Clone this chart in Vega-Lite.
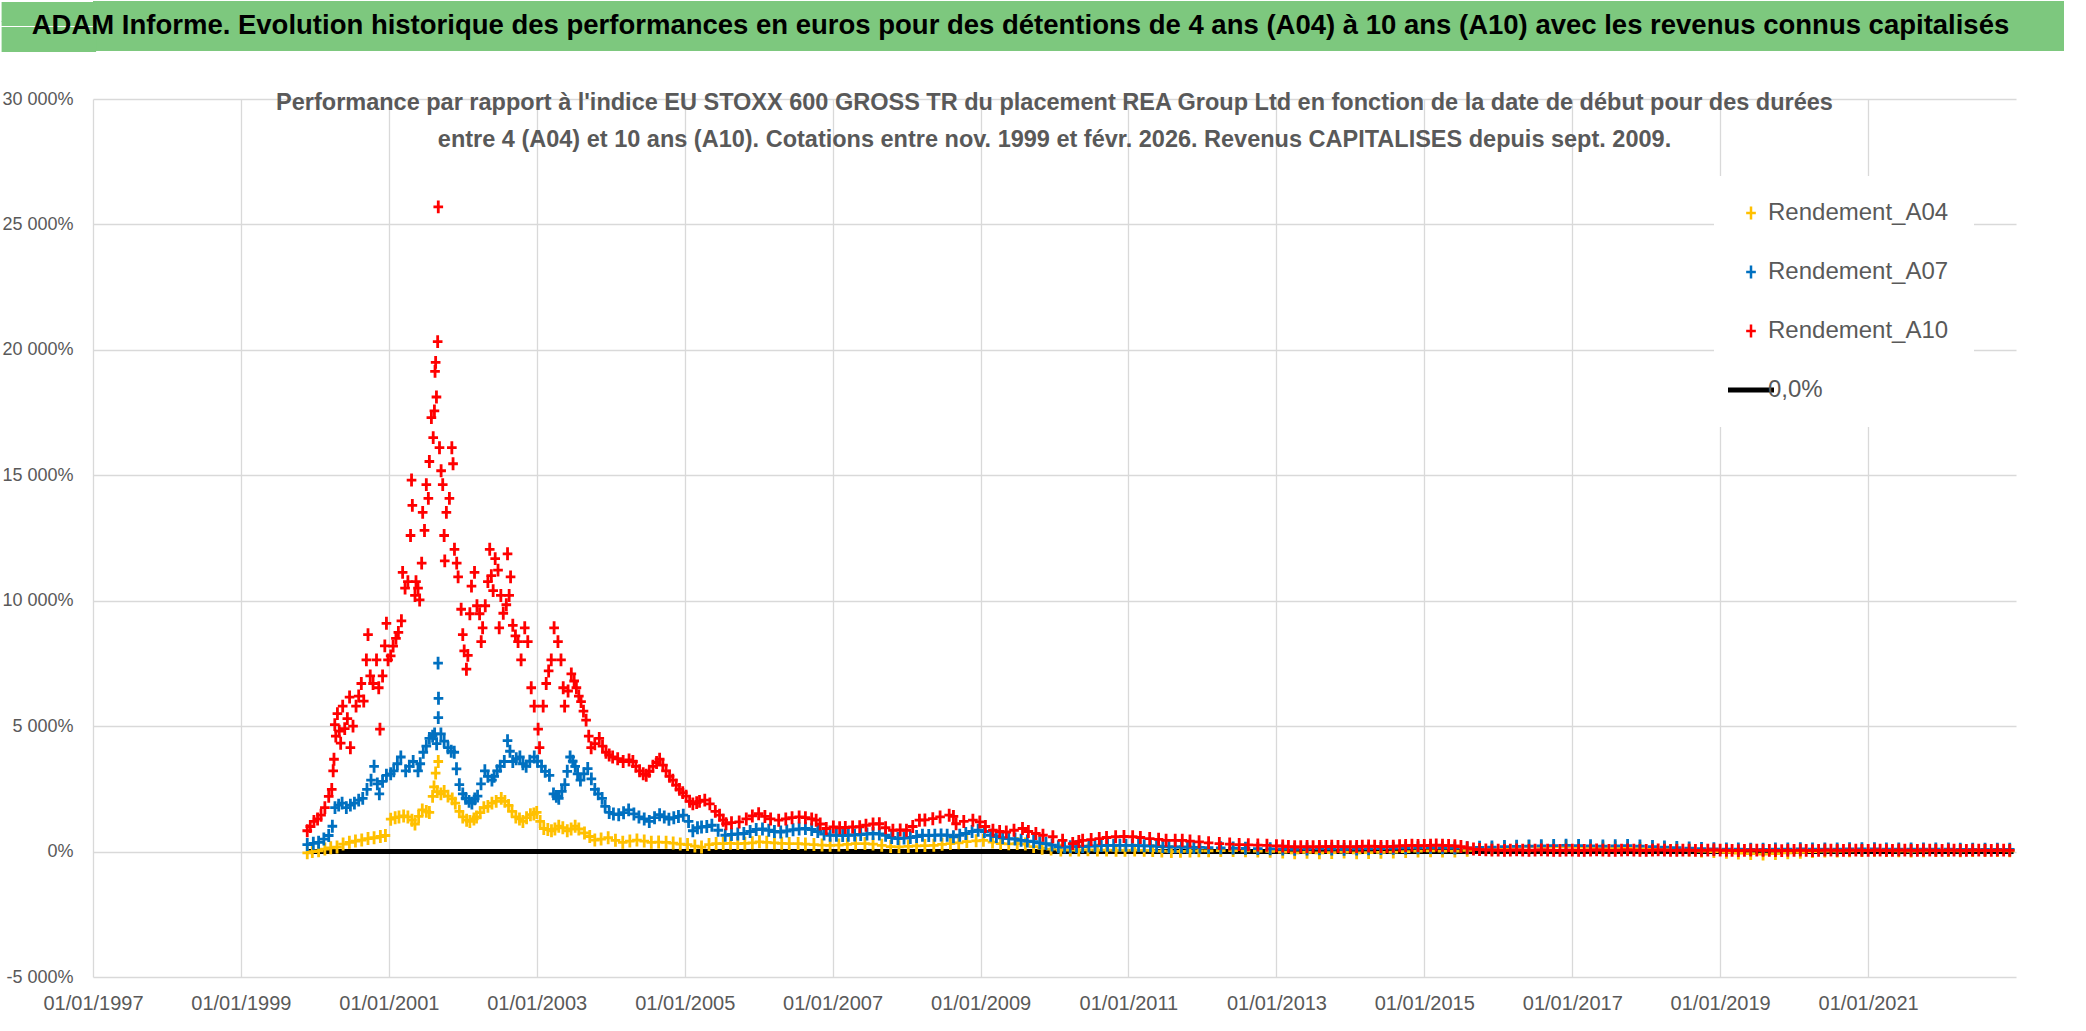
{
 "$schema": "https://vega.github.io/schema/vega-lite/v6.json",
 "padding": 0,
 "spacing": 37,
 "background": "white",
 "config": {
  "locale": {"number": {"decimal": ",", "thousands": " ", "grouping": [3], "currency": ["", " €"], "minus": "-"}},
  "font": "Liberation Sans",
  "view": {"stroke": null}
 },
 "datasets": {
  "pts": [
{"d":"1999-11-25","s":"A04","v":-50},{"d":"1999-12-20","s":"A04","v":0},{"d":"2000-01-20","s":"A04","v":30},{"d":"2000-02-20","s":"A04","v":100},{"d":"2000-03-20","s":"A04","v":150},{"d":"2000-04-20","s":"A04","v":180},{"d":"2000-05-20","s":"A04","v":300},{"d":"2000-06-20","s":"A04","v":370},{"d":"2000-07-20","s":"A04","v":420},{"d":"2000-08-20","s":"A04","v":460},{"d":"2000-09-20","s":"A04","v":520},{"d":"2000-10-20","s":"A04","v":550},{"d":"2000-11-20","s":"A04","v":600},{"d":"2000-12-15","s":"A04","v":640},{"d":"2001-01-10","s":"A04","v":1290},{"d":"2001-02-01","s":"A04","v":1350},{"d":"2001-02-20","s":"A04","v":1380},{"d":"2001-03-15","s":"A04","v":1420},{"d":"2001-04-05","s":"A04","v":1380},{"d":"2001-04-25","s":"A04","v":1250},{"d":"2001-05-10","s":"A04","v":1100},{"d":"2001-05-28","s":"A04","v":1400},{"d":"2001-06-15","s":"A04","v":1660},{"d":"2001-07-05","s":"A04","v":1600},{"d":"2001-07-20","s":"A04","v":1560},{"d":"2001-08-05","s":"A04","v":2200},{"d":"2001-08-12","s":"A04","v":2580},{"d":"2001-08-20","s":"A04","v":3130},{"d":"2001-08-28","s":"A04","v":2390},{"d":"2001-09-02","s":"A04","v":3590},{"d":"2001-09-15","s":"A04","v":2300},{"d":"2001-10-01","s":"A04","v":2400},{"d":"2001-10-20","s":"A04","v":2210},{"d":"2001-11-10","s":"A04","v":2100},{"d":"2001-11-25","s":"A04","v":1930},{"d":"2001-12-15","s":"A04","v":1600},{"d":"2002-01-01","s":"A04","v":1380},{"d":"2002-01-20","s":"A04","v":1250},{"d":"2002-02-05","s":"A04","v":1200},{"d":"2002-02-25","s":"A04","v":1300},{"d":"2002-03-10","s":"A04","v":1380},{"d":"2002-03-28","s":"A04","v":1550},{"d":"2002-04-15","s":"A04","v":1750},{"d":"2002-05-05","s":"A04","v":1800},{"d":"2002-05-25","s":"A04","v":1930},{"d":"2002-06-15","s":"A04","v":2000},{"d":"2002-07-10","s":"A04","v":2120},{"d":"2002-07-28","s":"A04","v":2000},{"d":"2002-08-15","s":"A04","v":1840},{"d":"2002-09-01","s":"A04","v":1600},{"d":"2002-09-20","s":"A04","v":1380},{"d":"2002-10-08","s":"A04","v":1300},{"d":"2002-10-25","s":"A04","v":1200},{"d":"2002-11-12","s":"A04","v":1350},{"d":"2002-12-01","s":"A04","v":1470},{"d":"2002-12-18","s":"A04","v":1500},{"d":"2003-01-01","s":"A04","v":1560},{"d":"2003-01-18","s":"A04","v":1200},{"d":"2003-02-05","s":"A04","v":920},{"d":"2003-02-25","s":"A04","v":880},{"d":"2003-03-15","s":"A04","v":830},{"d":"2003-04-01","s":"A04","v":900},{"d":"2003-04-20","s":"A04","v":1010},{"d":"2003-05-10","s":"A04","v":950},{"d":"2003-06-01","s":"A04","v":830},{"d":"2003-06-20","s":"A04","v":900},{"d":"2003-07-10","s":"A04","v":1010},{"d":"2003-07-28","s":"A04","v":900},{"d":"2003-08-25","s":"A04","v":740},{"d":"2003-09-20","s":"A04","v":600},{"d":"2003-10-15","s":"A04","v":460},{"d":"2003-11-15","s":"A04","v":500},{"d":"2003-12-20","s":"A04","v":550},{"d":"2004-01-25","s":"A04","v":450},{"d":"2004-03-01","s":"A04","v":370},{"d":"2004-04-05","s":"A04","v":420},{"d":"2004-05-10","s":"A04","v":460},{"d":"2004-06-15","s":"A04","v":420},{"d":"2004-07-20","s":"A04","v":370},{"d":"2004-08-25","s":"A04","v":380},{"d":"2004-10-01","s":"A04","v":370},{"d":"2004-11-05","s":"A04","v":340},{"d":"2004-12-10","s":"A04","v":300},{"d":"2005-01-15","s":"A04","v":280},{"d":"2005-02-20","s":"A04","v":220},{"d":"2005-03-25","s":"A04","v":180},{"d":"2005-05-01","s":"A04","v":280},{"d":"2005-06-05","s":"A04","v":320},{"d":"2005-07-10","s":"A04","v":320},{"d":"2005-08-15","s":"A04","v":330},{"d":"2005-09-20","s":"A04","v":320},{"d":"2005-10-25","s":"A04","v":330},{"d":"2005-12-01","s":"A04","v":350},{"d":"2006-01-05","s":"A04","v":390},{"d":"2006-02-10","s":"A04","v":370},{"d":"2006-03-20","s":"A04","v":350},{"d":"2006-04-25","s":"A04","v":330},{"d":"2006-06-01","s":"A04","v":320},{"d":"2006-07-15","s":"A04","v":320},{"d":"2006-08-20","s":"A04","v":300},{"d":"2006-10-01","s":"A04","v":280},{"d":"2006-11-10","s":"A04","v":260},{"d":"2006-12-20","s":"A04","v":250},{"d":"2007-02-01","s":"A04","v":260},{"d":"2007-03-15","s":"A04","v":290},{"d":"2007-04-25","s":"A04","v":320},{"d":"2007-06-10","s":"A04","v":320},{"d":"2007-07-20","s":"A04","v":300},{"d":"2007-09-01","s":"A04","v":250},{"d":"2007-10-15","s":"A04","v":200},{"d":"2007-11-25","s":"A04","v":190},{"d":"2008-01-10","s":"A04","v":210},{"d":"2008-02-20","s":"A04","v":230},{"d":"2008-04-01","s":"A04","v":240},{"d":"2008-05-15","s":"A04","v":250},{"d":"2008-06-25","s":"A04","v":290},{"d":"2008-08-05","s":"A04","v":320},{"d":"2008-09-15","s":"A04","v":350},{"d":"2008-10-25","s":"A04","v":400},{"d":"2008-12-10","s":"A04","v":430},{"d":"2009-01-15","s":"A04","v":450},{"d":"2009-03-01","s":"A04","v":380},{"d":"2009-04-10","s":"A04","v":320},{"d":"2009-05-20","s":"A04","v":310},{"d":"2009-07-01","s":"A04","v":320},{"d":"2009-08-10","s":"A04","v":300},{"d":"2009-09-20","s":"A04","v":200},{"d":"2009-11-01","s":"A04","v":130},{"d":"2009-12-15","s":"A04","v":100},{"d":"2010-02-01","s":"A04","v":60},{"d":"2010-03-20","s":"A04","v":60},{"d":"2010-05-01","s":"A04","v":60},{"d":"2010-06-15","s":"A04","v":70},{"d":"2010-08-01","s":"A04","v":60},{"d":"2010-09-15","s":"A04","v":60},{"d":"2010-11-01","s":"A04","v":50},{"d":"2010-12-15","s":"A04","v":50},{"d":"2011-02-01","s":"A04","v":60},{"d":"2011-03-20","s":"A04","v":50},{"d":"2011-05-01","s":"A04","v":40},{"d":"2011-06-15","s":"A04","v":20},{"d":"2011-08-01","s":"A04","v":0},{"d":"2011-09-15","s":"A04","v":10},{"d":"2011-11-01","s":"A04","v":20},{"d":"2011-12-15","s":"A04","v":30},{"d":"2012-02-01","s":"A04","v":30},{"d":"2012-04-01","s":"A04","v":40},{"d":"2012-06-01","s":"A04","v":40},{"d":"2012-08-01","s":"A04","v":30},{"d":"2012-10-01","s":"A04","v":20},{"d":"2012-12-01","s":"A04","v":10},{"d":"2013-02-01","s":"A04","v":-20},{"d":"2013-04-01","s":"A04","v":-50},{"d":"2013-06-01","s":"A04","v":-30},{"d":"2013-08-01","s":"A04","v":-50},{"d":"2013-10-01","s":"A04","v":-40},{"d":"2013-12-01","s":"A04","v":-20},{"d":"2014-02-01","s":"A04","v":-50},{"d":"2014-04-01","s":"A04","v":-40},{"d":"2014-06-01","s":"A04","v":-30},{"d":"2014-08-01","s":"A04","v":-20},{"d":"2014-10-01","s":"A04","v":0},{"d":"2014-12-01","s":"A04","v":20},{"d":"2015-02-01","s":"A04","v":30},{"d":"2015-04-01","s":"A04","v":20},{"d":"2015-06-01","s":"A04","v":20},{"d":"2015-08-01","s":"A04","v":50},{"d":"2015-10-01","s":"A04","v":100},{"d":"2015-12-01","s":"A04","v":120},{"d":"2016-02-01","s":"A04","v":150},{"d":"2016-04-01","s":"A04","v":180},{"d":"2016-06-01","s":"A04","v":200},{"d":"2016-08-01","s":"A04","v":180},{"d":"2016-10-01","s":"A04","v":190},{"d":"2016-12-01","s":"A04","v":200},{"d":"2017-02-01","s":"A04","v":180},{"d":"2017-04-01","s":"A04","v":170},{"d":"2017-06-01","s":"A04","v":150},{"d":"2017-08-01","s":"A04","v":160},{"d":"2017-10-01","s":"A04","v":140},{"d":"2017-12-01","s":"A04","v":120},{"d":"2018-02-01","s":"A04","v":100},{"d":"2018-04-01","s":"A04","v":120},{"d":"2018-06-01","s":"A04","v":100},{"d":"2018-08-01","s":"A04","v":60},{"d":"2018-10-01","s":"A04","v":20},{"d":"2018-12-01","s":"A04","v":0},{"d":"2019-02-01","s":"A04","v":-30},{"d":"2019-04-01","s":"A04","v":-60},{"d":"2019-06-01","s":"A04","v":-80},{"d":"2019-08-01","s":"A04","v":-100},{"d":"2019-10-01","s":"A04","v":-80},{"d":"2019-12-01","s":"A04","v":-50},{"d":"2020-02-01","s":"A04","v":-30},{"d":"2020-04-01","s":"A04","v":0},{"d":"2020-06-01","s":"A04","v":20},{"d":"2020-08-01","s":"A04","v":20},{"d":"2020-10-01","s":"A04","v":30},{"d":"2020-12-01","s":"A04","v":40},{"d":"2021-02-01","s":"A04","v":50},{"d":"2021-04-01","s":"A04","v":40},{"d":"2021-06-01","s":"A04","v":30},{"d":"2021-08-01","s":"A04","v":20},{"d":"2021-10-01","s":"A04","v":30},{"d":"2021-12-01","s":"A04","v":40},{"d":"2022-02-01","s":"A04","v":40},{"d":"2022-04-01","s":"A04","v":30},{"d":"2022-06-01","s":"A04","v":40},{"d":"2022-08-01","s":"A04","v":50},{"d":"2022-10-01","s":"A04","v":40},{"d":"2022-12-01","s":"A04","v":30},
{"d":"1999-11-25","s":"A07","v":280},{"d":"1999-12-25","s":"A07","v":330},{"d":"2000-01-20","s":"A07","v":370},{"d":"2000-02-15","s":"A07","v":500},{"d":"2000-03-10","s":"A07","v":640},{"d":"2000-03-28","s":"A07","v":1010},{"d":"2000-04-10","s":"A07","v":1750},{"d":"2000-04-28","s":"A07","v":1850},{"d":"2000-05-15","s":"A07","v":1930},{"d":"2000-06-05","s":"A07","v":1750},{"d":"2000-06-25","s":"A07","v":1850},{"d":"2000-07-15","s":"A07","v":1930},{"d":"2000-08-05","s":"A07","v":2050},{"d":"2000-08-25","s":"A07","v":2120},{"d":"2000-09-15","s":"A07","v":2480},{"d":"2000-10-05","s":"A07","v":2850},{"d":"2000-10-20","s":"A07","v":3400},{"d":"2000-11-05","s":"A07","v":2700},{"d":"2000-11-15","s":"A07","v":2300},{"d":"2000-12-01","s":"A07","v":2800},{"d":"2000-12-20","s":"A07","v":3040},{"d":"2001-01-10","s":"A07","v":3100},{"d":"2001-01-25","s":"A07","v":3220},{"d":"2001-02-12","s":"A07","v":3500},{"d":"2001-03-01","s":"A07","v":3770},{"d":"2001-03-25","s":"A07","v":3220},{"d":"2001-04-12","s":"A07","v":3400},{"d":"2001-05-01","s":"A07","v":3590},{"d":"2001-05-25","s":"A07","v":3220},{"d":"2001-06-05","s":"A07","v":3500},{"d":"2001-06-20","s":"A07","v":3960},{"d":"2001-07-05","s":"A07","v":4200},{"d":"2001-07-20","s":"A07","v":4510},{"d":"2001-08-05","s":"A07","v":4600},{"d":"2001-08-15","s":"A07","v":4690},{"d":"2001-08-25","s":"A07","v":4300},{"d":"2001-09-01","s":"A07","v":7510},{"d":"2001-09-02","s":"A07","v":5340},{"d":"2001-09-03","s":"A07","v":6110},{"d":"2001-09-15","s":"A07","v":4690},{"d":"2001-10-01","s":"A07","v":4400},{"d":"2001-10-20","s":"A07","v":4140},{"d":"2001-11-05","s":"A07","v":4000},{"d":"2001-11-20","s":"A07","v":3960},{"d":"2001-12-01","s":"A07","v":3300},{"d":"2001-12-15","s":"A07","v":2670},{"d":"2002-01-01","s":"A07","v":2300},{"d":"2002-01-15","s":"A07","v":2120},{"d":"2002-02-01","s":"A07","v":2000},{"d":"2002-02-15","s":"A07","v":1930},{"d":"2002-03-01","s":"A07","v":2100},{"d":"2002-03-15","s":"A07","v":2210},{"d":"2002-04-01","s":"A07","v":2700},{"d":"2002-04-20","s":"A07","v":3220},{"d":"2002-05-05","s":"A07","v":3000},{"d":"2002-05-25","s":"A07","v":2850},{"d":"2002-06-05","s":"A07","v":3000},{"d":"2002-06-20","s":"A07","v":3220},{"d":"2002-07-05","s":"A07","v":3400},{"d":"2002-07-25","s":"A07","v":3590},{"d":"2002-08-10","s":"A07","v":4420},{"d":"2002-08-22","s":"A07","v":4000},{"d":"2002-09-05","s":"A07","v":3590},{"d":"2002-09-22","s":"A07","v":3700},{"d":"2002-10-10","s":"A07","v":3770},{"d":"2002-10-25","s":"A07","v":3500},{"d":"2002-11-10","s":"A07","v":3400},{"d":"2002-11-28","s":"A07","v":3600},{"d":"2002-12-20","s":"A07","v":3770},{"d":"2003-01-05","s":"A07","v":3600},{"d":"2003-01-25","s":"A07","v":3400},{"d":"2003-02-12","s":"A07","v":3200},{"d":"2003-03-05","s":"A07","v":3040},{"d":"2003-03-25","s":"A07","v":2300},{"d":"2003-04-08","s":"A07","v":2200},{"d":"2003-04-20","s":"A07","v":2120},{"d":"2003-05-05","s":"A07","v":2400},{"d":"2003-05-20","s":"A07","v":2670},{"d":"2003-06-01","s":"A07","v":3200},{"d":"2003-06-15","s":"A07","v":3770},{"d":"2003-06-28","s":"A07","v":3600},{"d":"2003-07-10","s":"A07","v":3400},{"d":"2003-07-22","s":"A07","v":3100},{"d":"2003-08-05","s":"A07","v":2850},{"d":"2003-08-22","s":"A07","v":3100},{"d":"2003-09-10","s":"A07","v":3310},{"d":"2003-09-28","s":"A07","v":2900},{"d":"2003-10-15","s":"A07","v":2480},{"d":"2003-11-01","s":"A07","v":2300},{"d":"2003-11-20","s":"A07","v":2120},{"d":"2003-12-05","s":"A07","v":1800},{"d":"2003-12-25","s":"A07","v":1560},{"d":"2004-01-15","s":"A07","v":1500},{"d":"2004-02-10","s":"A07","v":1470},{"d":"2004-03-05","s":"A07","v":1550},{"d":"2004-03-30","s":"A07","v":1660},{"d":"2004-04-25","s":"A07","v":1500},{"d":"2004-05-20","s":"A07","v":1380},{"d":"2004-06-15","s":"A07","v":1300},{"d":"2004-07-10","s":"A07","v":1200},{"d":"2004-08-05","s":"A07","v":1350},{"d":"2004-08-30","s":"A07","v":1470},{"d":"2004-09-22","s":"A07","v":1380},{"d":"2004-10-15","s":"A07","v":1290},{"d":"2004-11-08","s":"A07","v":1350},{"d":"2004-12-01","s":"A07","v":1400},{"d":"2004-12-25","s":"A07","v":1450},{"d":"2005-01-20","s":"A07","v":1200},{"d":"2005-02-10","s":"A07","v":830},{"d":"2005-03-05","s":"A07","v":950},{"d":"2005-03-25","s":"A07","v":980},{"d":"2005-04-20","s":"A07","v":1000},{"d":"2005-05-15","s":"A07","v":1050},{"d":"2005-06-15","s":"A07","v":850},{"d":"2005-07-20","s":"A07","v":650},{"d":"2005-08-20","s":"A07","v":680},{"d":"2005-09-20","s":"A07","v":700},{"d":"2005-10-20","s":"A07","v":720},{"d":"2005-11-20","s":"A07","v":800},{"d":"2005-12-20","s":"A07","v":880},{"d":"2006-01-20","s":"A07","v":900},{"d":"2006-02-20","s":"A07","v":850},{"d":"2006-03-20","s":"A07","v":800},{"d":"2006-04-20","s":"A07","v":780},{"d":"2006-05-20","s":"A07","v":820},{"d":"2006-06-20","s":"A07","v":870},{"d":"2006-07-20","s":"A07","v":900},{"d":"2006-08-20","s":"A07","v":920},{"d":"2006-09-20","s":"A07","v":880},{"d":"2006-10-20","s":"A07","v":800},{"d":"2006-11-20","s":"A07","v":700},{"d":"2006-12-20","s":"A07","v":650},{"d":"2007-01-20","s":"A07","v":650},{"d":"2007-02-20","s":"A07","v":640},{"d":"2007-03-20","s":"A07","v":650},{"d":"2007-04-20","s":"A07","v":660},{"d":"2007-05-20","s":"A07","v":680},{"d":"2007-06-20","s":"A07","v":700},{"d":"2007-07-20","s":"A07","v":720},{"d":"2007-08-20","s":"A07","v":700},{"d":"2007-09-20","s":"A07","v":650},{"d":"2007-10-20","s":"A07","v":560},{"d":"2007-11-20","s":"A07","v":520},{"d":"2007-12-20","s":"A07","v":540},{"d":"2008-01-20","s":"A07","v":560},{"d":"2008-02-20","s":"A07","v":600},{"d":"2008-03-20","s":"A07","v":650},{"d":"2008-04-20","s":"A07","v":640},{"d":"2008-05-20","s":"A07","v":650},{"d":"2008-06-20","s":"A07","v":660},{"d":"2008-07-20","s":"A07","v":650},{"d":"2008-08-20","s":"A07","v":590},{"d":"2008-09-20","s":"A07","v":650},{"d":"2008-10-20","s":"A07","v":720},{"d":"2008-11-20","s":"A07","v":800},{"d":"2008-12-20","s":"A07","v":850},{"d":"2009-01-20","s":"A07","v":800},{"d":"2009-02-20","s":"A07","v":650},{"d":"2009-03-20","s":"A07","v":600},{"d":"2009-04-20","s":"A07","v":550},{"d":"2009-05-20","s":"A07","v":520},{"d":"2009-06-20","s":"A07","v":500},{"d":"2009-07-20","s":"A07","v":450},{"d":"2009-08-20","s":"A07","v":420},{"d":"2009-09-20","s":"A07","v":400},{"d":"2009-10-20","s":"A07","v":350},{"d":"2009-11-20","s":"A07","v":320},{"d":"2009-12-20","s":"A07","v":260},{"d":"2010-01-20","s":"A07","v":190},{"d":"2010-02-20","s":"A07","v":180},{"d":"2010-03-20","s":"A07","v":190},{"d":"2010-04-20","s":"A07","v":200},{"d":"2010-05-20","s":"A07","v":200},{"d":"2010-06-20","s":"A07","v":220},{"d":"2010-07-20","s":"A07","v":230},{"d":"2010-08-20","s":"A07","v":240},{"d":"2010-09-20","s":"A07","v":250},{"d":"2010-10-20","s":"A07","v":250},{"d":"2010-11-20","s":"A07","v":250},{"d":"2010-12-20","s":"A07","v":250},{"d":"2011-01-20","s":"A07","v":250},{"d":"2011-02-20","s":"A07","v":240},{"d":"2011-03-20","s":"A07","v":230},{"d":"2011-04-20","s":"A07","v":225},{"d":"2011-05-20","s":"A07","v":220},{"d":"2011-06-20","s":"A07","v":200},{"d":"2011-07-20","s":"A07","v":190},{"d":"2011-08-20","s":"A07","v":185},{"d":"2011-09-20","s":"A07","v":180},{"d":"2011-10-20","s":"A07","v":175},{"d":"2011-11-20","s":"A07","v":170},{"d":"2011-12-20","s":"A07","v":165},{"d":"2012-02-01","s":"A07","v":160},{"d":"2012-04-01","s":"A07","v":150},{"d":"2012-06-01","s":"A07","v":140},{"d":"2012-08-01","s":"A07","v":130},{"d":"2012-10-01","s":"A07","v":120},{"d":"2012-12-01","s":"A07","v":110},{"d":"2013-02-01","s":"A07","v":100},{"d":"2013-04-01","s":"A07","v":90},{"d":"2013-06-01","s":"A07","v":100},{"d":"2013-08-01","s":"A07","v":110},{"d":"2013-10-01","s":"A07","v":100},{"d":"2013-12-01","s":"A07","v":90},{"d":"2014-02-01","s":"A07","v":100},{"d":"2014-04-01","s":"A07","v":110},{"d":"2014-06-01","s":"A07","v":120},{"d":"2014-08-01","s":"A07","v":130},{"d":"2014-10-01","s":"A07","v":140},{"d":"2014-12-01","s":"A07","v":150},{"d":"2015-02-01","s":"A07","v":160},{"d":"2015-04-01","s":"A07","v":150},{"d":"2015-06-01","s":"A07","v":140},{"d":"2015-08-01","s":"A07","v":150},{"d":"2015-10-01","s":"A07","v":170},{"d":"2015-12-01","s":"A07","v":180},{"d":"2016-02-01","s":"A07","v":200},{"d":"2016-04-01","s":"A07","v":210},{"d":"2016-06-01","s":"A07","v":220},{"d":"2016-08-01","s":"A07","v":230},{"d":"2016-10-01","s":"A07","v":240},{"d":"2016-12-01","s":"A07","v":250},{"d":"2017-02-01","s":"A07","v":240},{"d":"2017-04-01","s":"A07","v":230},{"d":"2017-06-01","s":"A07","v":220},{"d":"2017-08-01","s":"A07","v":230},{"d":"2017-10-01","s":"A07","v":240},{"d":"2017-12-01","s":"A07","v":220},{"d":"2018-02-01","s":"A07","v":200},{"d":"2018-04-01","s":"A07","v":180},{"d":"2018-06-01","s":"A07","v":160},{"d":"2018-08-01","s":"A07","v":140},{"d":"2018-10-01","s":"A07","v":120},{"d":"2018-12-01","s":"A07","v":110},{"d":"2019-02-01","s":"A07","v":100},{"d":"2019-04-01","s":"A07","v":100},{"d":"2019-06-01","s":"A07","v":90},{"d":"2019-08-01","s":"A07","v":90},{"d":"2019-10-01","s":"A07","v":100},{"d":"2019-12-01","s":"A07","v":100},{"d":"2020-02-01","s":"A07","v":110},{"d":"2020-04-01","s":"A07","v":100},{"d":"2020-06-01","s":"A07","v":100},{"d":"2020-08-01","s":"A07","v":100},{"d":"2020-10-01","s":"A07","v":110},{"d":"2020-12-01","s":"A07","v":110},{"d":"2021-02-01","s":"A07","v":110},{"d":"2021-04-01","s":"A07","v":100},{"d":"2021-06-01","s":"A07","v":100},{"d":"2021-08-01","s":"A07","v":100},{"d":"2021-10-01","s":"A07","v":100},{"d":"2021-12-01","s":"A07","v":100},{"d":"2022-02-01","s":"A07","v":100},{"d":"2022-04-01","s":"A07","v":90},{"d":"2022-06-01","s":"A07","v":90},{"d":"2022-08-01","s":"A07","v":90},{"d":"2022-10-01","s":"A07","v":90},{"d":"2022-12-01","s":"A07","v":90},
{"d":"1999-11-25","s":"A10","v":830},{"d":"1999-12-10","s":"A10","v":1000},{"d":"1999-12-28","s":"A10","v":1200},{"d":"2000-01-15","s":"A10","v":1300},{"d":"2000-02-01","s":"A10","v":1450},{"d":"2000-02-20","s":"A10","v":1750},{"d":"2000-03-10","s":"A10","v":2200},{"d":"2000-03-25","s":"A10","v":2480},{"d":"2000-04-01","s":"A10","v":3220},{"d":"2000-04-05","s":"A10","v":3680},{"d":"2000-04-09","s":"A10","v":5060},{"d":"2000-04-14","s":"A10","v":4600},{"d":"2000-04-22","s":"A10","v":5500},{"d":"2000-05-01","s":"A10","v":4800},{"d":"2000-05-08","s":"A10","v":4320},{"d":"2000-05-18","s":"A10","v":5800},{"d":"2000-05-28","s":"A10","v":4900},{"d":"2000-06-10","s":"A10","v":5300},{"d":"2000-06-21","s":"A10","v":6160},{"d":"2000-06-25","s":"A10","v":4140},{"d":"2000-07-08","s":"A10","v":5000},{"d":"2000-07-23","s":"A10","v":5800},{"d":"2000-08-05","s":"A10","v":6200},{"d":"2000-08-18","s":"A10","v":6700},{"d":"2000-08-30","s":"A10","v":6000},{"d":"2000-09-12","s":"A10","v":7640},{"d":"2000-09-20","s":"A10","v":8650},{"d":"2000-10-01","s":"A10","v":7000},{"d":"2000-10-15","s":"A10","v":6700},{"d":"2000-11-01","s":"A10","v":7640},{"d":"2000-11-12","s":"A10","v":6530},{"d":"2000-11-18","s":"A10","v":4880},{"d":"2000-12-01","s":"A10","v":7000},{"d":"2000-12-12","s":"A10","v":8200},{"d":"2000-12-20","s":"A10","v":9100},{"d":"2000-12-28","s":"A10","v":7640},{"d":"2001-01-10","s":"A10","v":7800},{"d":"2001-01-22","s":"A10","v":8190},{"d":"2001-02-05","s":"A10","v":8500},{"d":"2001-02-17","s":"A10","v":8740},{"d":"2001-03-04","s":"A10","v":9200},{"d":"2001-03-10","s":"A10","v":11130},{"d":"2001-03-22","s":"A10","v":10500},{"d":"2001-04-05","s":"A10","v":10760},{"d":"2001-04-18","s":"A10","v":12600},{"d":"2001-04-23","s":"A10","v":14810},{"d":"2001-04-27","s":"A10","v":13800},{"d":"2001-05-10","s":"A10","v":10210},{"d":"2001-05-15","s":"A10","v":10760},{"d":"2001-05-25","s":"A10","v":10500},{"d":"2001-06-02","s":"A10","v":10030},{"d":"2001-06-12","s":"A10","v":11500},{"d":"2001-06-17","s":"A10","v":13520},{"d":"2001-06-26","s":"A10","v":12800},{"d":"2001-07-05","s":"A10","v":14630},{"d":"2001-07-15","s":"A10","v":14080},{"d":"2001-07-20","s":"A10","v":15550},{"d":"2001-07-30","s":"A10","v":17300},{"d":"2001-08-08","s":"A10","v":16500},{"d":"2001-08-14","s":"A10","v":17570},{"d":"2001-08-17","s":"A10","v":19140},{"d":"2001-08-20","s":"A10","v":19500},{"d":"2001-08-24","s":"A10","v":18120},{"d":"2001-08-30","s":"A10","v":20330},{"d":"2001-09-02","s":"A10","v":25700},{"d":"2001-09-08","s":"A10","v":16100},{"d":"2001-09-16","s":"A10","v":15180},{"d":"2001-09-24","s":"A10","v":14630},{"d":"2001-10-01","s":"A10","v":12600},{"d":"2001-10-04","s":"A10","v":11590},{"d":"2001-10-12","s":"A10","v":13520},{"d":"2001-10-27","s":"A10","v":14080},{"d":"2001-11-08","s":"A10","v":16100},{"d":"2001-11-14","s":"A10","v":15460},{"d":"2001-11-21","s":"A10","v":12050},{"d":"2001-12-02","s":"A10","v":11500},{"d":"2001-12-09","s":"A10","v":10950},{"d":"2001-12-24","s":"A10","v":9660},{"d":"2002-01-01","s":"A10","v":8650},{"d":"2002-01-08","s":"A10","v":8000},{"d":"2002-01-19","s":"A10","v":7270},{"d":"2002-01-26","s":"A10","v":7820},{"d":"2002-02-05","s":"A10","v":9480},{"d":"2002-02-13","s":"A10","v":10580},{"d":"2002-02-28","s":"A10","v":11130},{"d":"2002-03-12","s":"A10","v":9800},{"d":"2002-03-25","s":"A10","v":9480},{"d":"2002-04-02","s":"A10","v":8370},{"d":"2002-04-09","s":"A10","v":8920},{"d":"2002-04-22","s":"A10","v":9800},{"d":"2002-05-05","s":"A10","v":10760},{"d":"2002-05-14","s":"A10","v":12050},{"d":"2002-05-22","s":"A10","v":11000},{"d":"2002-05-31","s":"A10","v":10400},{"d":"2002-06-10","s":"A10","v":11680},{"d":"2002-06-24","s":"A10","v":11220},{"d":"2002-06-30","s":"A10","v":8920},{"d":"2002-07-08","s":"A10","v":10210},{"d":"2002-07-20","s":"A10","v":9500},{"d":"2002-08-04","s":"A10","v":9840},{"d":"2002-08-10","s":"A10","v":11870},{"d":"2002-08-18","s":"A10","v":10210},{"d":"2002-08-25","s":"A10","v":10950},{"d":"2002-09-05","s":"A10","v":9020},{"d":"2002-09-18","s":"A10","v":8600},{"d":"2002-10-01","s":"A10","v":8370},{"d":"2002-10-16","s":"A10","v":7640},{"d":"2002-11-03","s":"A10","v":8920},{"d":"2002-11-18","s":"A10","v":8370},{"d":"2002-12-05","s":"A10","v":6530},{"d":"2002-12-20","s":"A10","v":5800},{"d":"2003-01-08","s":"A10","v":4880},{"d":"2003-01-15","s":"A10","v":4140},{"d":"2003-02-02","s":"A10","v":5800},{"d":"2003-02-17","s":"A10","v":6700},{"d":"2003-03-01","s":"A10","v":7200},{"d":"2003-03-14","s":"A10","v":7640},{"d":"2003-03-28","s":"A10","v":8920},{"d":"2003-04-16","s":"A10","v":8370},{"d":"2003-05-01","s":"A10","v":7640},{"d":"2003-05-12","s":"A10","v":6530},{"d":"2003-05-19","s":"A10","v":5800},{"d":"2003-06-05","s":"A10","v":6400},{"d":"2003-06-21","s":"A10","v":7080},{"d":"2003-07-05","s":"A10","v":6800},{"d":"2003-07-16","s":"A10","v":6530},{"d":"2003-07-28","s":"A10","v":6200},{"d":"2003-08-08","s":"A10","v":5980},{"d":"2003-08-20","s":"A10","v":5600},{"d":"2003-09-02","s":"A10","v":5240},{"d":"2003-09-15","s":"A10","v":4600},{"d":"2003-09-27","s":"A10","v":4140},{"d":"2003-10-15","s":"A10","v":4300},{"d":"2003-11-06","s":"A10","v":4510},{"d":"2003-11-22","s":"A10","v":4200},{"d":"2003-12-09","s":"A10","v":3960},{"d":"2003-12-25","s":"A10","v":3850},{"d":"2004-01-11","s":"A10","v":3770},{"d":"2004-02-05","s":"A10","v":3700},{"d":"2004-03-03","s":"A10","v":3590},{"d":"2004-04-01","s":"A10","v":3650},{"d":"2004-04-20","s":"A10","v":3590},{"d":"2004-05-05","s":"A10","v":3400},{"d":"2004-05-23","s":"A10","v":3220},{"d":"2004-06-10","s":"A10","v":3100},{"d":"2004-06-25","s":"A10","v":3040},{"d":"2004-07-10","s":"A10","v":3200},{"d":"2004-07-28","s":"A10","v":3400},{"d":"2004-08-15","s":"A10","v":3550},{"d":"2004-08-30","s":"A10","v":3680},{"d":"2004-09-15","s":"A10","v":3450},{"d":"2004-10-01","s":"A10","v":3220},{"d":"2004-10-18","s":"A10","v":3000},{"d":"2004-11-03","s":"A10","v":2850},{"d":"2004-11-20","s":"A10","v":2650},{"d":"2004-12-06","s":"A10","v":2480},{"d":"2004-12-22","s":"A10","v":2350},{"d":"2005-01-08","s":"A10","v":2210},{"d":"2005-01-25","s":"A10","v":2000},{"d":"2005-02-10","s":"A10","v":1900},{"d":"2005-03-01","s":"A10","v":1950},{"d":"2005-03-15","s":"A10","v":2000},{"d":"2005-04-10","s":"A10","v":2050},{"d":"2005-05-05","s":"A10","v":1900},{"d":"2005-06-01","s":"A10","v":1600},{"d":"2005-06-22","s":"A10","v":1450},{"d":"2005-07-10","s":"A10","v":1250},{"d":"2005-07-24","s":"A10","v":1110},{"d":"2005-08-20","s":"A10","v":1150},{"d":"2005-09-27","s":"A10","v":1180},{"d":"2005-11-01","s":"A10","v":1300},{"d":"2005-12-01","s":"A10","v":1420},{"d":"2006-01-01","s":"A10","v":1510},{"d":"2006-02-01","s":"A10","v":1400},{"d":"2006-03-01","s":"A10","v":1300},{"d":"2006-04-10","s":"A10","v":1250},{"d":"2006-05-15","s":"A10","v":1300},{"d":"2006-06-15","s":"A10","v":1350},{"d":"2006-07-20","s":"A10","v":1380},{"d":"2006-08-20","s":"A10","v":1350},{"d":"2006-09-20","s":"A10","v":1300},{"d":"2006-10-12","s":"A10","v":1250},{"d":"2006-11-01","s":"A10","v":1100},{"d":"2006-12-01","s":"A10","v":920},{"d":"2007-01-05","s":"A10","v":980},{"d":"2007-02-05","s":"A10","v":950},{"d":"2007-03-05","s":"A10","v":960},{"d":"2007-04-10","s":"A10","v":980},{"d":"2007-05-15","s":"A10","v":990},{"d":"2007-06-15","s":"A10","v":1050},{"d":"2007-07-20","s":"A10","v":1100},{"d":"2007-08-20","s":"A10","v":1110},{"d":"2007-09-20","s":"A10","v":950},{"d":"2007-10-26","s":"A10","v":850},{"d":"2007-12-01","s":"A10","v":860},{"d":"2008-01-01","s":"A10","v":850},{"d":"2008-02-01","s":"A10","v":1000},{"d":"2008-03-05","s":"A10","v":1250},{"d":"2008-04-01","s":"A10","v":1260},{"d":"2008-05-10","s":"A10","v":1310},{"d":"2008-06-15","s":"A10","v":1380},{"d":"2008-07-30","s":"A10","v":1450},{"d":"2008-08-20","s":"A10","v":1400},{"d":"2008-09-02","s":"A10","v":1110},{"d":"2008-10-10","s":"A10","v":1200},{"d":"2008-11-24","s":"A10","v":1250},{"d":"2008-12-28","s":"A10","v":1180},{"d":"2009-01-25","s":"A10","v":1000},{"d":"2009-03-03","s":"A10","v":850},{"d":"2009-04-05","s":"A10","v":800},{"d":"2009-05-08","s":"A10","v":780},{"d":"2009-06-15","s":"A10","v":850},{"d":"2009-07-27","s":"A10","v":920},{"d":"2009-08-25","s":"A10","v":800},{"d":"2009-10-01","s":"A10","v":720},{"d":"2009-11-05","s":"A10","v":650},{"d":"2009-12-24","s":"A10","v":590},{"d":"2010-02-10","s":"A10","v":450},{"d":"2010-04-01","s":"A10","v":320},{"d":"2010-05-01","s":"A10","v":400},{"d":"2010-05-20","s":"A10","v":450},{"d":"2010-07-01","s":"A10","v":480},{"d":"2010-08-10","s":"A10","v":520},{"d":"2010-09-15","s":"A10","v":560},{"d":"2010-10-30","s":"A10","v":590},{"d":"2010-12-10","s":"A10","v":600},{"d":"2011-01-22","s":"A10","v":590},{"d":"2011-03-01","s":"A10","v":560},{"d":"2011-04-16","s":"A10","v":520},{"d":"2011-05-30","s":"A10","v":490},{"d":"2011-07-06","s":"A10","v":450},{"d":"2011-08-20","s":"A10","v":450},{"d":"2011-09-24","s":"A10","v":450},{"d":"2011-11-01","s":"A10","v":420},{"d":"2011-12-16","s":"A10","v":390},{"d":"2012-02-01","s":"A10","v":350},{"d":"2012-03-25","s":"A10","v":320},{"d":"2012-05-15","s":"A10","v":300},{"d":"2012-07-01","s":"A10","v":280},{"d":"2012-08-15","s":"A10","v":270},{"d":"2012-10-01","s":"A10","v":260},{"d":"2012-11-15","s":"A10","v":250},
{"d":"2013-01-01","s":"A10","v":230},{"d":"2013-02-01","s":"A10","v":220},{"d":"2013-03-01","s":"A10","v":200},{"d":"2013-04-01","s":"A10","v":190},{"d":"2013-05-01","s":"A10","v":190},{"d":"2013-06-01","s":"A10","v":200},{"d":"2013-07-01","s":"A10","v":190},{"d":"2013-08-01","s":"A10","v":200},{"d":"2013-09-01","s":"A10","v":200},{"d":"2013-10-01","s":"A10","v":210},{"d":"2013-11-01","s":"A10","v":200},{"d":"2013-12-01","s":"A10","v":200},
{"d":"2014-01-01","s":"A10","v":190},{"d":"2014-02-01","s":"A10","v":200},{"d":"2014-03-01","s":"A10","v":210},{"d":"2014-04-01","s":"A10","v":220},{"d":"2014-05-01","s":"A10","v":210},{"d":"2014-06-01","s":"A10","v":200},{"d":"2014-07-01","s":"A10","v":200},{"d":"2014-08-01","s":"A10","v":210},{"d":"2014-09-01","s":"A10","v":230},{"d":"2014-10-01","s":"A10","v":240},{"d":"2014-11-01","s":"A10","v":250},{"d":"2014-12-01","s":"A10","v":240},
{"d":"2015-01-01","s":"A10","v":240},{"d":"2015-02-01","s":"A10","v":250},{"d":"2015-03-01","s":"A10","v":260},{"d":"2015-04-01","s":"A10","v":250},{"d":"2015-05-01","s":"A10","v":240},{"d":"2015-06-01","s":"A10","v":230},{"d":"2015-07-01","s":"A10","v":200},{"d":"2015-08-01","s":"A10","v":150},{"d":"2015-09-01","s":"A10","v":100},{"d":"2015-10-01","s":"A10","v":80},{"d":"2015-11-01","s":"A10","v":70},{"d":"2015-12-01","s":"A10","v":60},
{"d":"2016-01-01","s":"A10","v":60},{"d":"2016-02-01","s":"A10","v":50},{"d":"2016-03-01","s":"A10","v":60},{"d":"2016-04-01","s":"A10","v":70},{"d":"2016-05-01","s":"A10","v":60},{"d":"2016-06-01","s":"A10","v":50},{"d":"2016-07-01","s":"A10","v":60},{"d":"2016-08-01","s":"A10","v":70},{"d":"2016-09-01","s":"A10","v":60},{"d":"2016-10-01","s":"A10","v":50},{"d":"2016-11-01","s":"A10","v":50},{"d":"2016-12-01","s":"A10","v":60},
{"d":"2017-01-01","s":"A10","v":60},{"d":"2017-02-01","s":"A10","v":50},{"d":"2017-03-01","s":"A10","v":50},{"d":"2017-04-01","s":"A10","v":60},{"d":"2017-05-01","s":"A10","v":70},{"d":"2017-06-01","s":"A10","v":60},{"d":"2017-07-01","s":"A10","v":50},{"d":"2017-08-01","s":"A10","v":50},{"d":"2017-09-01","s":"A10","v":60},{"d":"2017-10-01","s":"A10","v":70},{"d":"2017-11-01","s":"A10","v":60},{"d":"2017-12-01","s":"A10","v":50},
{"d":"2018-01-01","s":"A10","v":50},{"d":"2018-02-01","s":"A10","v":60},{"d":"2018-03-01","s":"A10","v":70},{"d":"2018-04-01","s":"A10","v":60},{"d":"2018-05-01","s":"A10","v":50},{"d":"2018-06-01","s":"A10","v":50},{"d":"2018-07-01","s":"A10","v":60},{"d":"2018-08-01","s":"A10","v":60},{"d":"2018-09-01","s":"A10","v":50},{"d":"2018-10-01","s":"A10","v":50},{"d":"2018-11-01","s":"A10","v":60},{"d":"2018-12-01","s":"A10","v":70},
{"d":"2019-01-01","s":"A10","v":60},{"d":"2019-02-01","s":"A10","v":50},{"d":"2019-03-01","s":"A10","v":50},{"d":"2019-04-01","s":"A10","v":40},{"d":"2019-05-01","s":"A10","v":50},{"d":"2019-06-01","s":"A10","v":60},{"d":"2019-07-01","s":"A10","v":60},{"d":"2019-08-01","s":"A10","v":50},{"d":"2019-09-01","s":"A10","v":50},{"d":"2019-10-01","s":"A10","v":40},{"d":"2019-11-01","s":"A10","v":40},{"d":"2019-12-01","s":"A10","v":50},
{"d":"2020-01-01","s":"A10","v":50},{"d":"2020-02-01","s":"A10","v":60},{"d":"2020-03-01","s":"A10","v":50},{"d":"2020-04-01","s":"A10","v":40},{"d":"2020-05-01","s":"A10","v":50},{"d":"2020-06-01","s":"A10","v":60},{"d":"2020-07-01","s":"A10","v":60},{"d":"2020-08-01","s":"A10","v":50},{"d":"2020-09-01","s":"A10","v":50},{"d":"2020-10-01","s":"A10","v":60},{"d":"2020-11-01","s":"A10","v":60},{"d":"2020-12-01","s":"A10","v":50},
{"d":"2021-01-01","s":"A10","v":50},{"d":"2021-02-01","s":"A10","v":60},{"d":"2021-03-01","s":"A10","v":60},{"d":"2021-04-01","s":"A10","v":50},{"d":"2021-05-01","s":"A10","v":50},{"d":"2021-06-01","s":"A10","v":60},{"d":"2021-07-01","s":"A10","v":60},{"d":"2021-08-01","s":"A10","v":50},{"d":"2021-09-01","s":"A10","v":50},{"d":"2021-10-01","s":"A10","v":60},{"d":"2021-11-01","s":"A10","v":60},{"d":"2021-12-01","s":"A10","v":50},
{"d":"2022-01-01","s":"A10","v":50},{"d":"2022-02-01","s":"A10","v":60},{"d":"2022-03-01","s":"A10","v":60},{"d":"2022-04-01","s":"A10","v":50},{"d":"2022-05-01","s":"A10","v":50},{"d":"2022-06-01","s":"A10","v":60},{"d":"2022-07-01","s":"A10","v":60},{"d":"2022-08-01","s":"A10","v":50},{"d":"2022-09-01","s":"A10","v":50},{"d":"2022-10-01","s":"A10","v":60},{"d":"2022-11-01","s":"A10","v":60},{"d":"2022-12-01","s":"A10","v":50}
  ],
  "zero": [{"d":"1999-11-25","s":"Z","v":0},{"d":"2022-12-20","s":"Z","v":0}]
 },
 "vconcat": [
  {
   "width": 1971,
   "height": 50,
   "view": {"fill": "#7DC87E", "stroke": null},
   "data": {"values": [{"t": "ADAM Informe. Evolution historique des performances en euros pour des détentions de 4 ans (A04) à 10 ans (A10) avec les revenus connus capitalisés"}]},
   "mark": {"type": "text", "font": "Liberation Sans", "fontSize": 27.5, "fontWeight": "bold", "color": "#000000", "dx": -58},
   "encoding": {
    "text": {"field": "t", "type": "nominal"},
    "y": {"datum": 0.5, "type": "quantitative", "scale": {"domain": [0, 1], "nice": false, "zero": false},
      "axis": {"title": null, "values": [0.05, 0.15, 0.25, 0.35, 0.45, 0.55, 0.65, 0.75, 0.85, 0.95], "labels": false, "ticks": true, "tickSize": 89.3, "tickWidth": 5.2, "tickCap": "square", "tickColor": "#7DC87E", "domain": false, "grid": false}}
   }
  },
  {
   "width": 1923,
   "height": 878,
   "title": {
    "text": ["Performance par rapport à l'indice EU STOXX 600 GROSS TR  du placement REA Group Ltd en fonction de la date de début pour des durées", "entre 4 (A04) et 10 ans (A10). Cotations entre nov. 1999 et févr. 2026. Revenus CAPITALISES depuis sept. 2009."],
    "frame": "group", "anchor": "middle", "orient": "top", "baseline": "top", "offset": -61,
    "fontSize": 23.5, "font": "Liberation Sans", "fontWeight": "bold",
    "color": "#595959", "lineHeight": 37, "zindex": 1
   },
   "layer": [
    {
     "mark": {"type": "rect", "fill": "white"},
     "encoding": {
      "x": {"datum": {"year": 1999, "month": 4, "date": 15}, "type": "temporal", "scale": {"domain": [{"year": 1997, "month": 1, "date": 1}, {"year": 2023, "month": 1, "date": 1}], "nice": false},
        "axis": {"title": null, "values": [{"year": 1997, "month": 1, "date": 1}, {"year": 1999, "month": 1, "date": 1}, {"year": 2001, "month": 1, "date": 1}, {"year": 2003, "month": 1, "date": 1}, {"year": 2005, "month": 1, "date": 1}, {"year": 2007, "month": 1, "date": 1}, {"year": 2009, "month": 1, "date": 1}, {"year": 2011, "month": 1, "date": 1}, {"year": 2013, "month": 1, "date": 1}, {"year": 2015, "month": 1, "date": 1}, {"year": 2017, "month": 1, "date": 1}, {"year": 2019, "month": 1, "date": 1}, {"year": 2021, "month": 1, "date": 1}],
         "format": "%d/%m/%Y", "labelFontSize": 20, "labelColor": "#595959", "labelPadding": 16, "labelFlush": false, "labelOverlap": false, "ticks": false, "domain": false, "grid": true, "gridColor": "#D9D9D9", "gridWidth": 1.3}},
      "x2": {"datum": {"year": 2020, "month": 7, "date": 26}},
      "y": {"datum": 27800, "type": "quantitative", "scale": {"domain": [-5000, 30000], "nice": false, "zero": false},
        "axis": {"title": null, "values": [-5000, 0, 5000, 10000, 15000, 20000, 25000, 30000], "format": ",.0f", "labelExpr": "datum.label + '%'", "labelFontSize": 18, "labelColor": "#595959", "labelPadding": 20, "labelFlush": false, "ticks": false, "domain": false, "grid": true, "gridColor": "#D9D9D9", "gridWidth": 1.3}},
      "y2": {"datum": 30300}
     }
    },
    {
     "mark": {"type": "rule", "color": "#C4C4C4", "strokeWidth": 3},
     "encoding": {
      "x": {"datum": {"year": 1997, "month": 1, "date": 1}, "type": "temporal", "scale": {"domain": [{"year": 1997, "month": 1, "date": 1}, {"year": 2023, "month": 1, "date": 1}], "nice": false},
        "axis": {"title": null, "values": [{"year": 1997, "month": 1, "date": 1}, {"year": 1999, "month": 1, "date": 1}, {"year": 2001, "month": 1, "date": 1}, {"year": 2003, "month": 1, "date": 1}, {"year": 2005, "month": 1, "date": 1}, {"year": 2007, "month": 1, "date": 1}, {"year": 2009, "month": 1, "date": 1}, {"year": 2011, "month": 1, "date": 1}, {"year": 2013, "month": 1, "date": 1}, {"year": 2015, "month": 1, "date": 1}, {"year": 2017, "month": 1, "date": 1}, {"year": 2019, "month": 1, "date": 1}, {"year": 2021, "month": 1, "date": 1}],
         "format": "%d/%m/%Y", "labelFontSize": 20, "labelColor": "#595959", "labelPadding": 16, "labelFlush": false, "labelOverlap": false, "ticks": false, "domain": false, "grid": true, "gridColor": "#D9D9D9", "gridWidth": 1.3}},
      "x2": {"datum": {"year": 2023, "month": 1, "date": 1}},
      "y": {"datum": -560, "type": "quantitative", "scale": {"domain": [-5000, 30000], "nice": false, "zero": false},
        "axis": {"title": null, "values": [-5000, 0, 5000, 10000, 15000, 20000, 25000, 30000], "format": ",.0f", "labelExpr": "datum.label + '%'", "labelFontSize": 18, "labelColor": "#595959", "labelPadding": 20, "labelFlush": false, "ticks": false, "domain": false, "grid": true, "gridColor": "#D9D9D9", "gridWidth": 1.3}}
     }
    },
    {
     "data": {"name": "zero"},
     "mark": {"type": "line", "strokeWidth": 5},
     "encoding": {
      "x": {"field": "d", "type": "temporal", "scale": {"domain": [{"year": 1997, "month": 1, "date": 1}, {"year": 2023, "month": 1, "date": 1}], "nice": false},
        "axis": {"title": null, "values": [{"year": 1997, "month": 1, "date": 1}, {"year": 1999, "month": 1, "date": 1}, {"year": 2001, "month": 1, "date": 1}, {"year": 2003, "month": 1, "date": 1}, {"year": 2005, "month": 1, "date": 1}, {"year": 2007, "month": 1, "date": 1}, {"year": 2009, "month": 1, "date": 1}, {"year": 2011, "month": 1, "date": 1}, {"year": 2013, "month": 1, "date": 1}, {"year": 2015, "month": 1, "date": 1}, {"year": 2017, "month": 1, "date": 1}, {"year": 2019, "month": 1, "date": 1}, {"year": 2021, "month": 1, "date": 1}],
         "format": "%d/%m/%Y", "labelFontSize": 20, "labelColor": "#595959", "labelPadding": 16, "labelFlush": false, "labelOverlap": false, "ticks": false, "domain": false, "grid": true, "gridColor": "#D9D9D9", "gridWidth": 1.3}},
      "y": {"field": "v", "type": "quantitative", "scale": {"domain": [-5000, 30000], "nice": false, "zero": false},
        "axis": {"title": null, "values": [-5000, 0, 5000, 10000, 15000, 20000, 25000, 30000], "format": ",.0f", "labelExpr": "datum.label + '%'", "labelFontSize": 18, "labelColor": "#595959", "labelPadding": 20, "labelFlush": false, "ticks": false, "domain": false, "grid": true, "gridColor": "#D9D9D9", "gridWidth": 1.3}},
      "color": {"field": "s", "type": "nominal", "scale": {"domain": ["A04", "A07", "A10", "Z"], "range": ["#FFC000", "#0070C0", "#FF0000", "#000000"]},
        "legend": {"title": null, "orient": "none", "legendX": 1621, "legendY": 175, "fillColor": "white", "padding": 25, "rowPadding": 35, "symbolSize": 2116, "symbolStrokeWidth": 2, "labelFontSize": 24, "labelLimit": 400, "labelColor": "#595959", "labelOffset": 5, "zindex": 1, "labelExpr": "datum.value == 'Z' ? '0,0%' : 'Rendement_' + datum.value", "encode": {"symbols": {"update": {"strokeWidth": {"signal": "datum.value == 'Z' ? 5 : 2.5"}}}}}}
     }
    },
    {
     "data": {"name": "pts"},
     "mark": {"type": "point", "filled": false, "size": 2116, "strokeWidth": 2.8, "opacity": 1},
     "encoding": {
      "x": {"field": "d", "type": "temporal", "scale": {"domain": [{"year": 1997, "month": 1, "date": 1}, {"year": 2023, "month": 1, "date": 1}], "nice": false},
        "axis": {"title": null, "values": [{"year": 1997, "month": 1, "date": 1}, {"year": 1999, "month": 1, "date": 1}, {"year": 2001, "month": 1, "date": 1}, {"year": 2003, "month": 1, "date": 1}, {"year": 2005, "month": 1, "date": 1}, {"year": 2007, "month": 1, "date": 1}, {"year": 2009, "month": 1, "date": 1}, {"year": 2011, "month": 1, "date": 1}, {"year": 2013, "month": 1, "date": 1}, {"year": 2015, "month": 1, "date": 1}, {"year": 2017, "month": 1, "date": 1}, {"year": 2019, "month": 1, "date": 1}, {"year": 2021, "month": 1, "date": 1}],
         "format": "%d/%m/%Y", "labelFontSize": 20, "labelColor": "#595959", "labelPadding": 16, "labelFlush": false, "labelOverlap": false, "ticks": false, "domain": false, "grid": true, "gridColor": "#D9D9D9", "gridWidth": 1.3}},
      "y": {"field": "v", "type": "quantitative", "scale": {"domain": [-5000, 30000], "nice": false, "zero": false},
        "axis": {"title": null, "values": [-5000, 0, 5000, 10000, 15000, 20000, 25000, 30000], "format": ",.0f", "labelExpr": "datum.label + '%'", "labelFontSize": 18, "labelColor": "#595959", "labelPadding": 20, "labelFlush": false, "ticks": false, "domain": false, "grid": true, "gridColor": "#D9D9D9", "gridWidth": 1.3}},
      "color": {"field": "s", "type": "nominal", "scale": {"domain": ["A04", "A07", "A10", "Z"], "range": ["#FFC000", "#0070C0", "#FF0000", "#000000"]},
        "legend": {"title": null, "orient": "none", "legendX": 1621, "legendY": 175, "fillColor": "white", "padding": 25, "rowPadding": 35, "symbolSize": 2116, "symbolStrokeWidth": 2, "labelFontSize": 24, "labelLimit": 400, "labelColor": "#595959", "labelOffset": 5, "zindex": 1, "labelExpr": "datum.value == 'Z' ? '0,0%' : 'Rendement_' + datum.value", "encode": {"symbols": {"update": {"strokeWidth": {"signal": "datum.value == 'Z' ? 5 : 2.5"}}}}}},
      "shape": {"field": "s", "type": "nominal", "scale": {"domain": ["A04", "A07", "A10", "Z"], "range": ["M-0.21,0H0.21M0,-0.28V0.28", "M-0.21,0H0.21M0,-0.28V0.28", "M-0.21,0H0.21M0,-0.28V0.28", "M-1,0H1"]},
        "legend": {"title": null, "orient": "none", "legendX": 1621, "legendY": 175, "fillColor": "white", "padding": 25, "rowPadding": 35, "symbolSize": 2116, "symbolStrokeWidth": 2, "labelFontSize": 24, "labelLimit": 400, "labelColor": "#595959", "labelOffset": 5, "zindex": 1, "labelExpr": "datum.value == 'Z' ? '0,0%' : 'Rendement_' + datum.value", "encode": {"symbols": {"update": {"strokeWidth": {"signal": "datum.value == 'Z' ? 5 : 2.5"}}}}}}
     }
    }
   ]
  }
 ]
}
